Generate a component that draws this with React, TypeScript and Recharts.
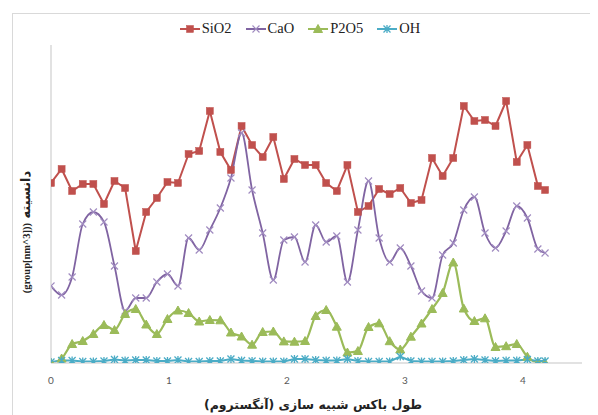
import React from "react";
import { LineChart, Line, XAxis, YAxis } from "recharts";

const X = [0, 0.09, 0.179, 0.269, 0.359, 0.449, 0.538, 0.628, 0.718, 0.807, 0.897, 0.987, 1.076, 1.166, 1.256, 1.346, 1.435, 1.525, 1.615, 1.704, 1.794, 1.884, 1.973, 2.063, 2.153, 2.243, 2.332, 2.422, 2.512, 2.601, 2.691, 2.781, 2.87, 2.96, 3.05, 3.14, 3.229, 3.319, 3.409, 3.498, 3.588, 3.678, 3.767, 3.857, 3.947, 4.037, 4.126, 4.187];
const SIO2 = [180, 194, 172, 179, 179, 159, 182, 175, 112, 151, 165, 181, 180, 209, 212, 252, 211, 193, 237, 218, 206, 226, 184, 204, 198, 198, 180, 172, 198, 151, 157, 174, 169, 175, 160, 163, 205, 187, 205, 257, 242, 243, 237, 262, 201, 218, 177, 173];
const CAO = [77, 68, 86, 139, 151, 141, 97, 52, 65, 65, 81, 89, 77, 125, 113, 133, 155, 185, 230, 173, 130, 83, 123, 126, 101, 138, 121, 127, 81, 133, 182, 125, 101, 115, 97, 72, 65, 108, 120, 153, 166, 130, 115, 132, 157, 145, 114, 110];
const P2O5 = [0, 4.5, 19, 22, 29, 38, 33, 49, 54, 38.5, 29, 44, 52.5, 50, 41.5, 43, 42.7, 30.5, 26.5, 18.3, 31, 31.5, 21.6, 21.3, 22, 47, 53, 36.3, 10.5, 12, 36, 39.7, 21.8, 13.5, 26.3, 39.5, 54, 70, 100.5, 54.5, 42, 44.7, 16, 16.8, 19, 6.3, 0, 0];
const OH = [1, 2.5, 2.5, 1.5, 1.5, 2, 3.5, 2.5, 3, 3, 2, 2, 3, 1.5, 1.5, 2, 2, 4, 2.5, 2, 1.5, 1.5, 1.5, 4, 4, 3, 2.5, 2.5, 4, 2, 1.5, 1.5, 1.5, 6.5, 2, 1.5, 1.5, 1.5, 2, 3, 4, 3, 2, 2.5, 2.5, 3.5, 2, 2];
const X_TICKS = [0, 1, 2, 3, 4];
const SERIES = ["SiO2", "CaO", "P2O5", "OH"];
const X_LABEL = "طول باکس شبیه سازی (آنگستروم)";
const Y_LABEL_FA = "دانسیته";
const Y_LABEL_EN = "(group[nm^3]))";

const data = X.map((x, i) => ({ x, SiO2: SIO2[i], CaO: CAO[i], P2O5: P2O5[i], OH: OH[i] }));

const RED = "#C0504D";
const PURPLE = "#8064A2";
const GREEN = "#9BBB59";
const CYAN = "#4BACC6";

function markerShape(name: string, cx: number, cy: number) {
  if (name === "SiO2") {
    return <rect x={cx - 3.5} y={cy - 3.5} width={7} height={7} fill={RED} stroke={RED} strokeWidth={0.5} />;
  }
  if (name === "CaO") {
    return (
      <path d={`M${cx - 3.5},${cy - 3.5}L${cx + 3.5},${cy + 3.5}M${cx - 3.5},${cy + 3.5}L${cx + 3.5},${cy - 3.5}`} stroke="#A08BC0" strokeWidth={1.2} fill="none" />
    );
  }
  if (name === "P2O5") {
    return <path d={`M${cx},${cy - 4.5}L${cx + 4.5},${cy + 3.5}L${cx - 4.5},${cy + 3.5}Z`} fill={GREEN} stroke={GREEN} />;
  }
  return (
    <path d={`M${cx - 3.5},${cy - 3.5}L${cx + 3.5},${cy + 3.5}M${cx - 3.5},${cy + 3.5}L${cx + 3.5},${cy - 3.5}M${cx},${cy - 4}L${cx},${cy + 4}`} stroke={CYAN} strokeWidth={1.3} fill="none" />
  );
}

const makeDot = (name: string) => (props: any) => {
  const { cx, cy, index } = props;
  if (cx == null || cy == null) return <g key={`${name}-${index}`} />;
  return <g key={`${name}-${index}`}>{markerShape(name, cx, cy)}</g>;
};

const COLORS: Record<string, string> = { SiO2: RED, CaO: PURPLE, P2O5: GREEN, OH: CYAN };

function XLabel() {
  return (
    <text x={305} y={401} textAnchor="middle" fontFamily="DejaVu Sans" fontWeight="bold" fontSize={12.5} fill="#222">
      {X_LABEL}
    </text>
  );
}

function YLabel() {
  return (
    <text transform="translate(22,224) rotate(-90)" textAnchor="middle" fontWeight="bold" fill="#222">
      <tspan fontFamily="Liberation Serif" fontSize={10.5}>{Y_LABEL_EN}</tspan>
      <tspan fontFamily="DejaVu Sans" fontSize={13}>{" " + Y_LABEL_FA}</tspan>
    </text>
  );
}

function Legend() {
  return (
    <div style={{ position: "absolute", left: 0, top: 12, width: 590, display: "flex", justifyContent: "center", fontFamily: "Liberation Serif", fontSize: 14.5, color: "#222", paddingLeft: 8, boxSizing: "border-box" }}>
      {SERIES.map((s) => (
        <div key={s} style={{ display: "flex", alignItems: "center", marginRight: 14 }}>
          <svg width={20} height={12} style={{ marginRight: 2 }}>
            <line x1={0} y1={6} x2={20} y2={6} stroke={COLORS[s]} strokeWidth={2} />
            {markerShape(s, 10, 6)}
          </svg>
          <span>{s}</span>
        </div>
      ))}
    </div>
  );
}

export default function App() {
  return (
    <div style={{ position: "relative", width: 590, height: 407 }}>
      <div style={{ position: "absolute", left: 4, top: 5, width: 580, height: 420, border: "1px solid #d9d9d9", boxSizing: "border-box" }} />
      <Legend />
      <div style={{ position: "absolute", left: 0, top: 0 }}>
        <LineChart width={590} height={407} data={data} margin={{ top: 37, right: 16, bottom: 22, left: 0 }}>
          <XAxis
            dataKey="x"
            type="number"
            domain={[0, 4.5]}
            ticks={X_TICKS}
            allowDataOverflow
            axisLine={{ stroke: "#d9d9d9", strokeWidth: 1.5 }}
            tickLine={false}
            tickMargin={8}
            tick={{ fill: "#595959", fontSize: 10, fontFamily: "Lato" }}
            height={30}
            label={<XLabel />}
          />
          <YAxis
            type="number"
            domain={[0, 318]}
            allowDataOverflow
            width={43}
            tick={false}
            tickLine={false}
            axisLine={{ stroke: "#d9d9d9", strokeWidth: 1.5 }}
            label={<YLabel />}
          />
          <Line type="linear" dataKey="SiO2" stroke={RED} strokeWidth={2} dot={makeDot("SiO2")} isAnimationActive={false} />
          <Line type="monotone" dataKey="CaO" stroke={PURPLE} strokeWidth={1.8} dot={makeDot("CaO")} isAnimationActive={false} />
          <Line type="monotone" dataKey="P2O5" stroke={GREEN} strokeWidth={2.2} dot={makeDot("P2O5")} isAnimationActive={false} />
          <Line type="linear" dataKey="OH" stroke={CYAN} strokeWidth={2} dot={makeDot("OH")} isAnimationActive={false} />
        </LineChart>
      </div>
    </div>
  );
}
